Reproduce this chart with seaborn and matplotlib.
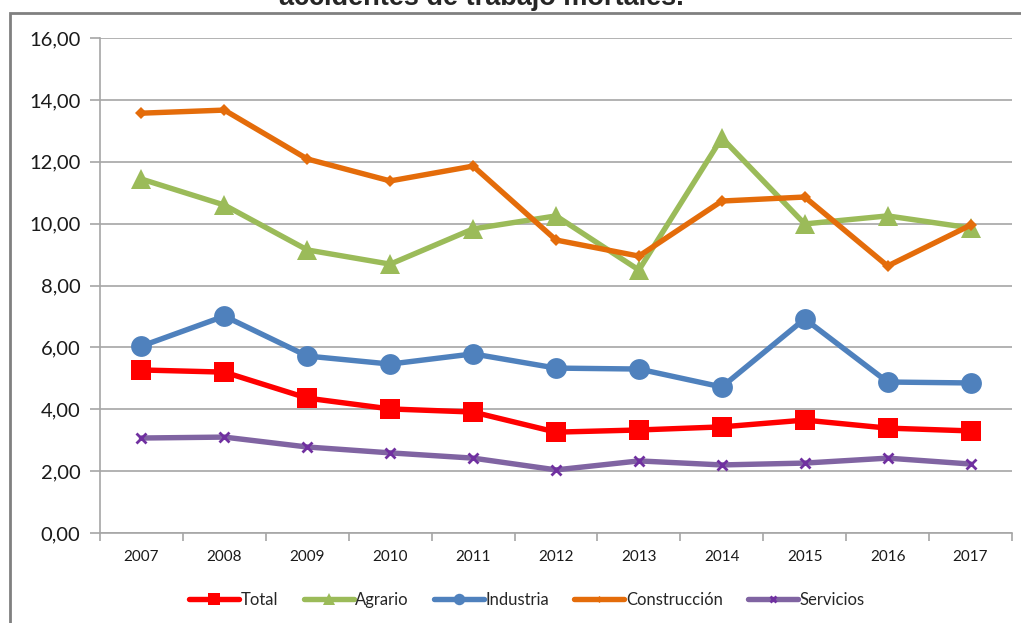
import matplotlib
matplotlib.use("Agg")
import matplotlib.pyplot as plt
from matplotlib.patches import Rectangle
from matplotlib.ticker import FixedLocator, FuncFormatter
import seaborn as sns
import numpy as np

years = [2007, 2008, 2009, 2010, 2011, 2012, 2013, 2014, 2015, 2016, 2017]
total = [5.27, 5.20, 4.36, 4.01, 3.91, 3.26, 3.33, 3.43, 3.65, 3.39, 3.30]
agrario = [11.44, 10.60, 9.15, 8.69, 9.83, 10.25, 8.50, 12.77, 9.99, 10.25, 9.86]
industria = [6.04, 7.01, 5.72, 5.46, 5.79, 5.33, 5.30, 4.72, 6.92, 4.88, 4.85]
construccion = [13.57, 13.67, 12.09, 11.38, 11.86, 9.47, 8.95, 10.73, 10.86, 8.63, 9.95]
servicios = [3.07, 3.10, 2.78, 2.59, 2.42, 2.04, 2.33, 2.20, 2.26, 2.42, 2.23]
yticks = [0, 2, 4, 6, 8, 10, 12, 14, 16]
title = "accidentes de trabajo mortales."

sns.set_style("white")
plt.rcParams['font.family'] = ['Lato', 'DejaVu Sans']

fig = plt.figure(figsize=(10.21, 6.23), dpi=100)
ax = fig.add_axes([100 / 1021, 1 - 533 / 623, 912 / 1021, 495 / 623])

# outer chart border (partly cropped like the source)
fig.patches.append(Rectangle((10 / 1021, -0.1), 1.2, 1 - 13 / 623 + 0.1,
                             transform=fig.transFigure, fill=False,
                             edgecolor="#808080", linewidth=2))

series = [
    ("Total", total, "#FF0000", "s", 14.5, "#FF0000"),
    ("Agrario", agrario, "#9BBB59", "^", 15, "#9BBB59"),
    ("Industria", industria, "#4F81BD", "o", 15, "#4F81BD"),
    ("Construcción", construccion, "#E46C0A", "D", 6.5, "#E46C0A"),
    ("Servicios", servicios, "#8064A2", "x", 7, "#7030A0"),
]

for name, vals, color, marker, ms, mcolor in series:
    sns.lineplot(x=years, y=vals, ax=ax, color=color, linewidth=3.9,
                 marker=marker, markersize=ms, markerfacecolor=mcolor,
                 markeredgecolor=mcolor, markeredgewidth=2 if marker == "x" else 0,
                 label=name, legend=False)

ax.set_xlim(2006.5, 2017.5)
ax.set_ylim(0, 16)
ax.set_yticks(yticks)
ax.yaxis.set_major_formatter(FuncFormatter(lambda v, p: f"{v:.2f}".replace(".", ",")))
ax.set_xticks(years)
ax.set_xticklabels([str(y) for y in years])
ax.xaxis.set_minor_locator(FixedLocator(np.arange(2006.5, 2018, 1.0)))

ax.grid(axis="y", color="#a6a6a6", linewidth=1.2)
ax.set_axisbelow(True)
for s in ["top", "right"]:
    ax.spines[s].set_visible(False)
for s in ["left", "bottom"]:
    ax.spines[s].set_color("#a6a6a6")
    ax.spines[s].set_linewidth(1.2)

ax.tick_params(axis="y", which="major", length=7, color="#a6a6a6", width=1.2,
               labelsize=14.5, pad=7, left=True)
ax.tick_params(axis="x", which="major", length=0, labelsize=11, pad=12, bottom=True)
ax.tick_params(axis="x", which="minor", length=6, color="#a6a6a6", width=1.2, bottom=True)
for lbl in ax.get_yticklabels() + ax.get_xticklabels():
    lbl.set_color("#1a1a1a")

h, l = ax.get_legend_handles_labels()
fig.legend(h, l, loc="center", bbox_to_anchor=(527 / 1021, 1 - 600 / 623), ncol=5,
           frameon=False, fontsize=12, handlelength=3.0, handletextpad=0.1,
           columnspacing=1.5, markerscale=0.55)

fig.text(481 / 1021, 1 - 5 / 623, title, ha="center", va="baseline",
         fontsize=19.5, fontweight="bold", family=["Liberation Sans", "DejaVu Sans"])

fig.savefig("out.png", dpi=100)
